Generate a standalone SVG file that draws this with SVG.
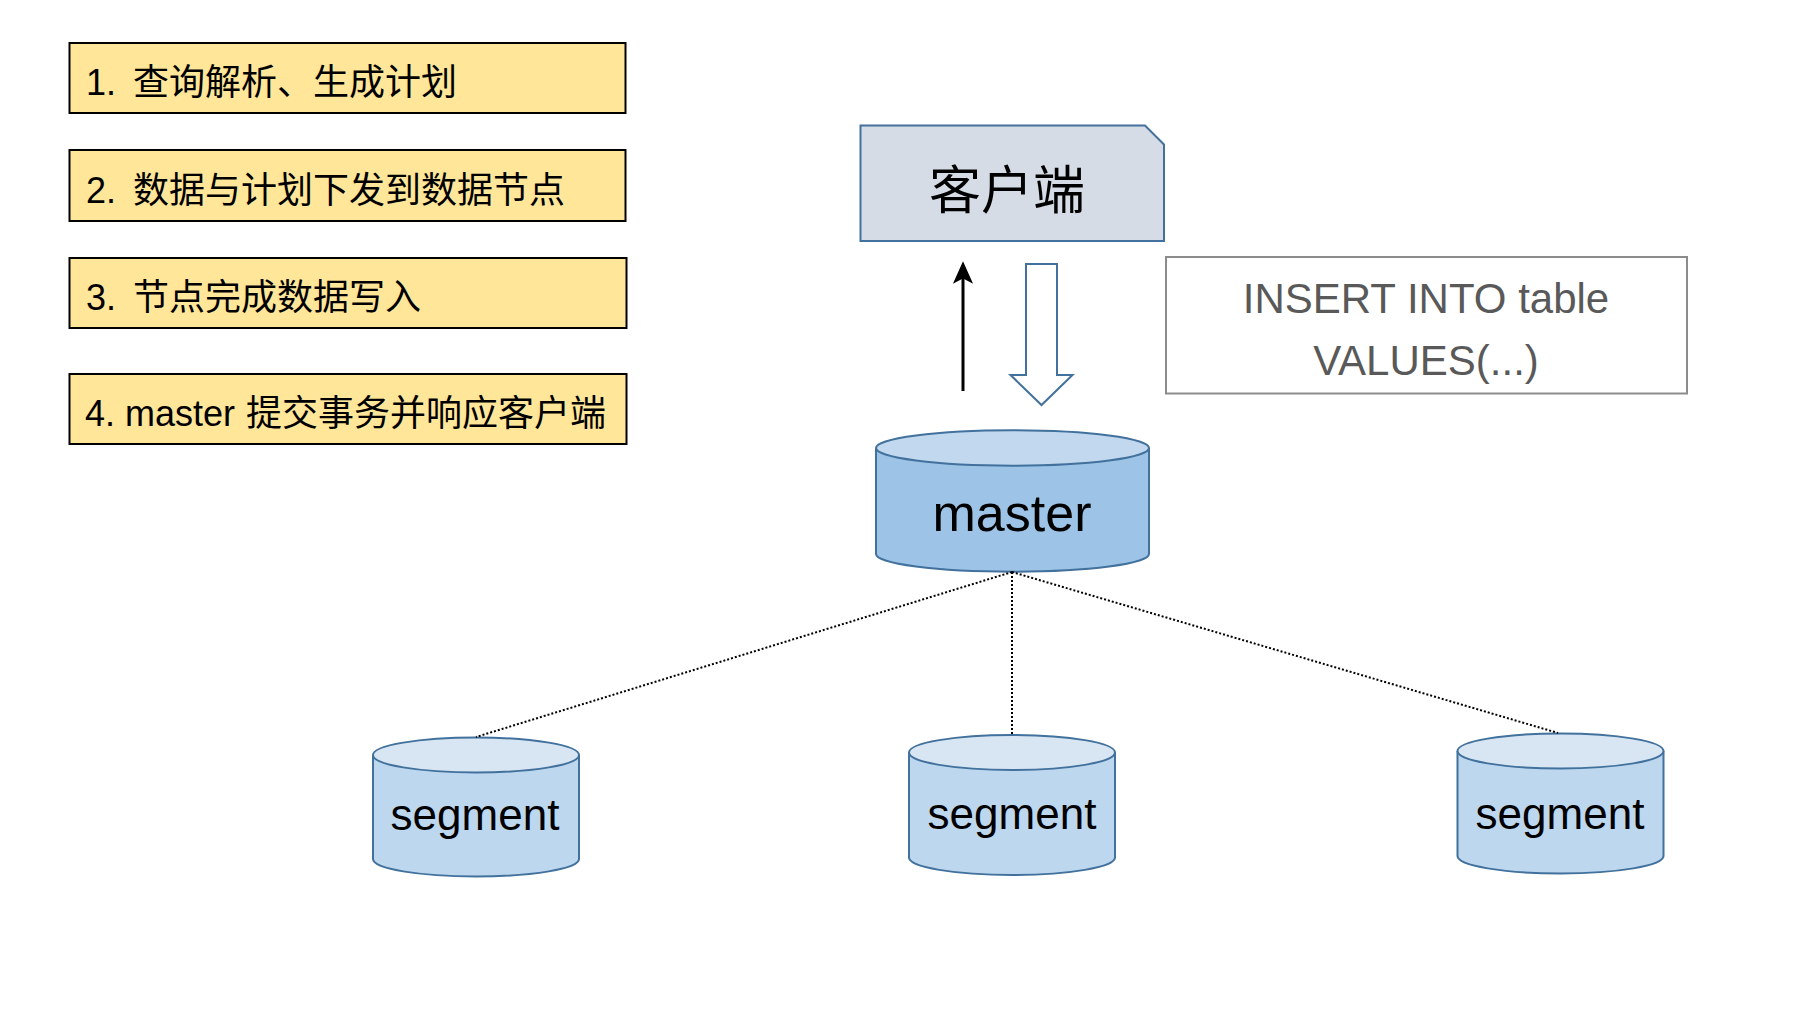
<svg xmlns="http://www.w3.org/2000/svg" width="1816" height="1022" viewBox="0 0 1816 1022">
<style>
.step{fill:#ffe699;stroke:#000;stroke-width:2}
.stxt{font-family:"Liberation Sans","Noto Sans CJK SC",sans-serif;font-size:36px;fill:#000}
.cjk{font-family:"Noto Sans CJK SC",sans-serif;font-size:36px}
.cylm{fill:#9dc3e6;stroke:#41719c;stroke-width:2}
.cylmt{fill:#c2d8ee;stroke:#41719c;stroke-width:2}
.cyls{fill:#bdd7ee;stroke:#41719c;stroke-width:2}
.cylst{fill:#d8e6f4;stroke:#41719c;stroke-width:2}
.lbl{font-family:"Liberation Sans",Arial,sans-serif;fill:#000;text-anchor:middle}
.dot{stroke:#000;stroke-width:2;stroke-dasharray:2 2;fill:none}
</style>
<rect width="1816" height="1022" fill="#fff"/>

<g id="step1">
<rect class="step" x="69.5" y="43" width="556" height="70"/>
<text class="stxt" x="86" y="95">1.<tspan class="cjk" x="133">查询解析、生成计划</tspan></text>
</g>
<g id="step2">
<rect class="step" x="69.5" y="150" width="556" height="71"/>
<text class="stxt" x="86" y="202.5">2.<tspan class="cjk" x="133">数据与计划下发到数据节点</tspan></text>
</g>
<g id="step3">
<rect class="step" x="69.5" y="258" width="557" height="70"/>
<text class="stxt" x="86" y="309.5">3.<tspan class="cjk" x="133">节点完成数据写入</tspan></text>
</g>
<g id="step4">
<rect class="step" x="69.5" y="374" width="557" height="70"/>
<text class="stxt" x="85" y="426">4. master<tspan class="cjk" x="246">提交事务并响应客户端</tspan></text>
</g>

<g id="client">
<path d="M860.5,125.5 H1145 L1164,144.5 V241 H860.5 Z" fill="#d6dce5" stroke="#41719c" stroke-width="2"/>
<text x="1007" y="209" font-family="'Noto Sans CJK SC',sans-serif" font-size="52" text-anchor="middle" fill="#000">客户端</text>
</g>

<g id="sql">
<rect x="1166" y="257" width="521" height="136.5" fill="#fff" stroke="#8c8c8c" stroke-width="2"/>
<text class="lbl" x="1426" y="313" font-size="42" style="fill:#595959">INSERT INTO table</text>
<text class="lbl" x="1426" y="375" font-size="42" style="fill:#595959">VALUES(...)</text>
</g>

<g id="master">
<path class="cylm" d="M876,448 V554 A136.5,17.7 0 0 0 1149,554 V448"/>
<ellipse class="cylmt" cx="1012.5" cy="448" rx="136.5" ry="17.7"/>
<text class="lbl" x="1012" y="531" font-size="52">master</text>
</g>

<g id="segment1">
<path class="cyls" d="M373,755 V859 A103,17.5 0 0 0 579,859 V755"/>
<ellipse class="cylst" cx="476" cy="755" rx="103" ry="17.5"/>
<text class="lbl" x="475" y="830" font-size="44">segment</text>
</g>
<g id="segment2">
<path class="cyls" d="M909,752.5 V857.5 A103,17.5 0 0 0 1115,857.5 V752.5"/>
<ellipse class="cylst" cx="1012" cy="752.5" rx="103" ry="17.5"/>
<text class="lbl" x="1012" y="829" font-size="44">segment</text>
</g>
<g id="segment3">
<path class="cyls" d="M1457.5,751 V856 A103,17.5 0 0 0 1663.5,856 V751"/>
<ellipse class="cylst" cx="1560.5" cy="751" rx="103" ry="17.5"/>
<text class="lbl" x="1560" y="829" font-size="44">segment</text>
</g>

<g id="connectors">
<line x1="963" y1="391" x2="963" y2="272" stroke="#000" stroke-width="3"/>
<path d="M963,263 L971.5,282 L963,277.5 L954.5,282 Z" fill="#000" stroke="#000" stroke-width="1.5" stroke-linejoin="miter"/>
<path d="M1026,264 H1057 V375 H1072.5 L1041.5,405 L1010.5,375 H1026 Z" fill="#fff" stroke="#41719c" stroke-width="2"/>
<line class="dot" x1="1012" y1="572" x2="476" y2="737"/>
<line class="dot" x1="1012" y1="572" x2="1012" y2="735"/>
<line class="dot" x1="1012" y1="572" x2="1558" y2="733"/>
</g>
</svg>
